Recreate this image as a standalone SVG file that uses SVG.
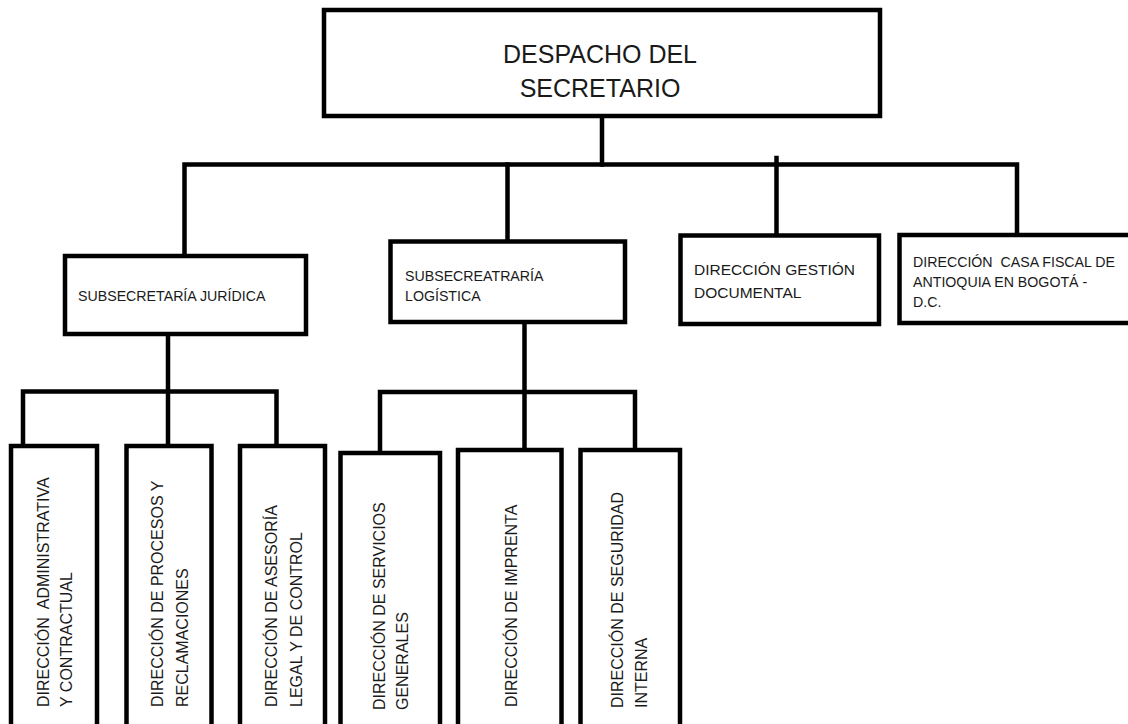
<svg xmlns="http://www.w3.org/2000/svg" width="1128" height="724" viewBox="0 0 1128 724">
<style>
.box{fill:#fff;stroke:#000;stroke-width:4.5}
.ln{fill:none;stroke:#000;stroke-width:4.5;stroke-linejoin:miter;stroke-linecap:square}
text{font-family:"Liberation Sans",Arial,sans-serif;fill:#1a1a1a}
.t1{font-size:25px}
.s{font-size:14.2px}
.g{font-size:15.5px}
.v{font-size:16px}
</style>
<rect width="1128" height="724" fill="#fff"/>
<g id="connectors">
<path class="ln" d="M602 116 V164.5"/>
<path class="ln" d="M184.5 256 V164.5 H1017 V235"/>
<path class="ln" d="M507.5 164.5 V241.5"/>
<path class="ln" d="M776.5 158 V235.5"/>
<path class="ln" d="M168 334 V446"/>
<path class="ln" d="M23 446 V391.5 H276.5 V446"/>
<path class="ln" d="M524.5 322 V449"/>
<path class="ln" d="M380 453 V392 H635 V450"/>
</g>
<g id="n-despacho">
<rect class="box" x="324" y="10" width="556" height="106"/>
<text class="t1" x="600" y="63" text-anchor="middle">DESPACHO DEL</text>
<text class="t1" x="600" y="97" text-anchor="middle">SECRETARIO</text>
</g>
<g id="n-juridica">
<rect class="box" x="65" y="256" width="241" height="78"/>
<text class="s" x="78" y="301">SUBSECRETARÍA JURÍDICA</text>
</g>
<g id="n-logistica">
<rect class="box" x="390.5" y="241.5" width="234.5" height="80.5"/>
<text class="s" x="405" y="281">SUBSECREATRARÍA</text>
<text class="s" x="405" y="301">LOGÍSTICA</text>
</g>
<g id="n-gestion">
<rect class="box" x="680.5" y="235.5" width="198.5" height="88.5"/>
<text class="g" x="694" y="275">DIRECCIÓN GESTIÓN</text>
<text class="g" x="694" y="298">DOCUMENTAL</text>
</g>
<g id="n-casafiscal">
<rect class="box" x="899.5" y="235" width="240" height="88"/>
<text class="s" x="913" y="267" xml:space="preserve">DIRECCIÓN  CASA FISCAL DE</text>
<text class="s" x="913" y="287">ANTIOQUIA EN BOGOTÁ -</text>
<text class="s" x="913" y="307">D.C.</text>
</g>
<g id="n-administrativa">
<rect class="box" x="11" y="446" width="86" height="290"/>
<text class="v" transform="translate(49,707) rotate(-90)" xml:space="preserve">DIRECCIÓN  ADMINISTRATIVA</text>
<text class="v" transform="translate(72,707) rotate(-90)">Y CONTRACTUAL</text>
</g>
<g id="n-procesos">
<rect class="box" x="126.5" y="446" width="85" height="290"/>
<text class="v" transform="translate(163,707) rotate(-90)">DIRECCIÓN DE PROCESOS Y</text>
<text class="v" transform="translate(188,707) rotate(-90)">RECLAMACIONES</text>
</g>
<g id="n-asesoria">
<rect class="box" x="240" y="446" width="85" height="290"/>
<text class="v" transform="translate(277,707) rotate(-90)">DIRECCIÓN DE ASESORÍA</text>
<text class="v" transform="translate(302,707) rotate(-90)">LEGAL Y DE CONTROL</text>
</g>
<g id="n-servicios">
<rect class="box" x="340.5" y="453" width="99.5" height="290"/>
<text class="v" transform="translate(385,710) rotate(-90)">DIRECCIÓN DE SERVICIOS</text>
<text class="v" transform="translate(408,710) rotate(-90)">GENERALES</text>
</g>
<g id="n-imprenta">
<rect class="box" x="458" y="450" width="103.5" height="290"/>
<text class="v" transform="translate(517,707) rotate(-90)">DIRECCIÓN DE IMPRENTA</text>
</g>
<g id="n-seguridad">
<rect class="box" x="580.5" y="450" width="99.5" height="290"/>
<text class="v" transform="translate(623,708) rotate(-90)">DIRECCIÓN DE SEGURIDAD</text>
<text class="v" transform="translate(647,708) rotate(-90)">INTERNA</text>
</g>
</svg>
